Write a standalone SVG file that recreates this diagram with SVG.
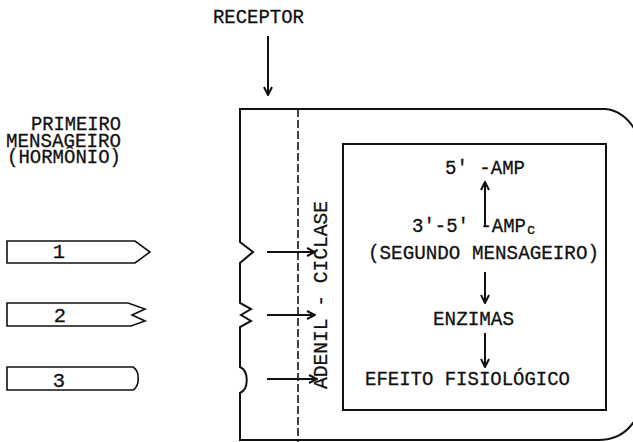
<svg xmlns="http://www.w3.org/2000/svg" width="633" height="442" viewBox="0 0 633 442">
<style>
  text { font-family: "Liberation Mono", "DejaVu Sans Mono", monospace; font-size: 20.5px; fill: #111; stroke: #111; stroke-width: 0.3; }
  .ln { fill: none; stroke: #111; stroke-width: 2; stroke-linejoin: miter; }
  .thin { fill: none; stroke: #111; stroke-width: 1.6; }
  .dash { fill: none; stroke: #111; stroke-width: 1.6; stroke-dasharray: 8 3; }
  .arr { fill: none; stroke: #111; stroke-width: 2; marker-end: url(#ah); }
</style>
<defs>
  <marker id="ah" viewBox="0 0 10 10" refX="9" refY="5" markerWidth="10" markerHeight="10" markerUnits="userSpaceOnUse" orient="auto">
    <path d="M1,1 L9,5 L1,9" fill="none" stroke="#111" stroke-width="2"/>
  </marker>
</defs>
<rect width="633" height="442" fill="#fff"/>

<g id="receptor-label">
  <text x="213" y="23" textLength="91" lengthAdjust="spacingAndGlyphs">RECEPTOR</text>
</g>

<g id="primeiro-mensageiro">
  <text x="121" y="130" text-anchor="end" textLength="90" lengthAdjust="spacingAndGlyphs">PRIMEIRO</text>
  <text x="121" y="147" text-anchor="end" textLength="115" lengthAdjust="spacingAndGlyphs">MENSAGEIRO</text>
  <text x="121" y="163" text-anchor="end" textLength="114" lengthAdjust="spacingAndGlyphs">(HORMÔNIO)</text>
</g>

<g id="hormone-1">
  <path class="thin" d="M7,241 H135 L150,252 L135,263 H7 Z"/>
  <text x="59" y="258" text-anchor="middle">1</text>
</g>
<g id="hormone-2">
  <path class="thin" d="M7,303 H128 L145,309 L132,315 L145,321 L131,326 H7 Z"/>
  <text x="60" y="322" text-anchor="middle">2</text>
</g>
<g id="hormone-3">
  <path class="thin" d="M7,367 H133 C140,371 140,386 133,390 H7 Z"/>
  <text x="59" y="387" text-anchor="middle">3</text>
</g>

<g id="receptor-cell">
  <path class="ln" d="M640,410 Q628,440 598,440 H240 V393 C249,389 249,371 240,367 V327 L251,321 L241,315 L251,309 L240,303 V263 L253,252 L240,242 V109 H605 Q628,111 640,140"/>
  <path class="dash" d="M298,109 V442"/>
  <text transform="translate(327,389) rotate(-90)" textLength="188" lengthAdjust="spacingAndGlyphs">ADENIL - CICLASE</text>
</g>

<g id="cytoplasm-box">
  <rect class="ln" x="343" y="144" width="263" height="266"/>
  <text x="445" y="174" textLength="80" lengthAdjust="spacingAndGlyphs">5' -AMP</text>
  <text x="412" y="232"><tspan textLength="114" lengthAdjust="spacingAndGlyphs">3'-5' -AMP</tspan><tspan x="527" y="234" font-size="14">c</tspan></text>
  <text x="368" y="259" textLength="231" lengthAdjust="spacingAndGlyphs">(SEGUNDO MENSAGEIRO)</text>
  <text x="433" y="325" textLength="81" lengthAdjust="spacingAndGlyphs">ENZIMAS</text>
  <text x="365" y="385" textLength="205" lengthAdjust="spacingAndGlyphs">EFEITO FISIOLÓGICO</text>
</g>

<g id="connectors">
  <path class="arr" d="M268,36 V95"/>
  <path class="arr" d="M267,252 H315"/>
  <path class="arr" d="M267,315 H315"/>
  <path class="arr" d="M267,379 H317"/>
  <path class="arr" d="M485,227 V182"/>
  <path class="arr" d="M485,272 V303"/>
  <path class="arr" d="M485,333 V367"/>
</g>
</svg>
